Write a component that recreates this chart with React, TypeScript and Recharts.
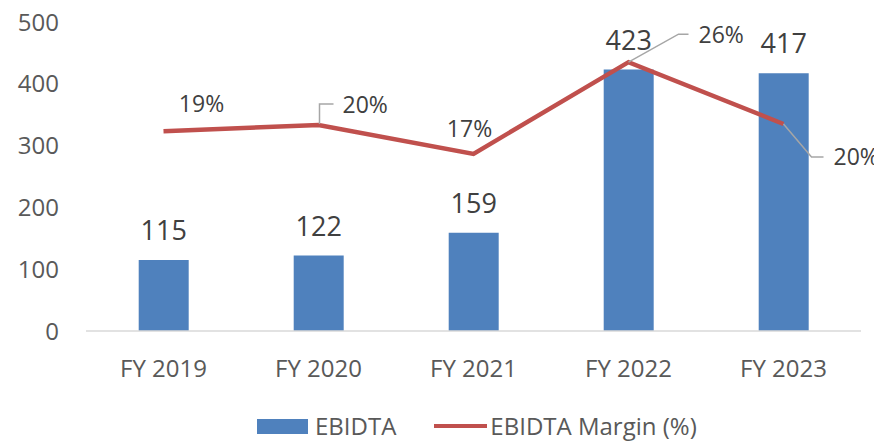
import React from 'react';
import { ComposedChart, Bar, Line, XAxis, YAxis, Legend, LabelList } from 'recharts';

const years = ['FY 2019', 'FY 2020', 'FY 2021', 'FY 2022', 'FY 2023'];
const ebidta = [115, 122, 159, 423, 417];
const margin = [19.4, 20.0, 17.2, 26.1, 20.1];
const yTicks = [0, 100, 200, 300, 400, 500];

const data = years.map((y, i) => ({ year: y, ebidta: ebidta[i], margin: margin[i] }));

const BLUE = '#4F81BD';
const RED = '#C0504D';
const TXT = '#595959';
const LEADER = '#A6A6A6';

// label placement around each line point: dx/dy of text, anchor, optional leader polyline
const marginLabelPos = [
  { dx: 38, dy: -27, anchor: 'middle', leader: null },
  { dx: 24, dy: -20, anchor: 'start', leader: [[1, -1], [1, -21], [15, -21]] },
  { dx: -4, dy: -25, anchor: 'middle', leader: null },
  { dx: 70, dy: -27, anchor: 'start', leader: [[0, 0], [50, -28], [60, -28]] },
  { dx: 50, dy: 33, anchor: 'start', leader: [[0, 0], [28, 33], [40, 33]] },
];

const MarginLabel = (props: any) => {
  const { x, y, index, value } = props;
  const p = marginLabelPos[index];
  if (!p) return null;
  return (
    <g>
      {p.leader && (
        <polyline
          points={p.leader.map(([a, b]) => `${x + a},${y + b}`).join(' ')}
          fill="none"
          stroke={LEADER}
          strokeWidth={1.5}
        />
      )}
      <text x={x + p.dx} y={y + p.dy} dy="0.355em" textAnchor={p.anchor} fill="#404040" fontSize={23}>
        {Math.round(value)}%
      </text>
    </g>
  );
};

const LegendContent = () => (
  <div style={{ height: 28, lineHeight: '28px', display: 'flex', alignItems: 'center', paddingLeft: 257, fontSize: 24, color: TXT }}>
    <span style={{ display: 'inline-block', width: 51, height: 15, background: BLUE, marginRight: 7 }} />
    <span style={{ marginRight: 38 }}>EBIDTA</span>
    <span style={{ display: 'inline-block', width: 53, height: 4, background: RED, marginRight: 3 }} />
    <span>EBIDTA Margin (%)</span>
  </div>
);

export default function App() {
  return (
    <div style={{ position: 'absolute', left: 0, top: 0, width: 874, height: 441, background: '#fff', fontFamily: '"Open Sans", sans-serif' }}>
      <ComposedChart width={874} height={441} data={data} margin={{ top: 22, right: 13, left: 16, bottom: 0 }} barCategoryGap="34%">
        <XAxis
          dataKey="year"
          axisLine={{ stroke: '#D9D9D9', strokeWidth: 1.5 }}
          tickLine={false}
          tickSize={0}
          tickMargin={29}
          height={82}
          tick={{ fill: TXT, fontSize: 24 }}
          interval={0}
        />
        <YAxis
          yAxisId="left"
          domain={[0, 500]}
          ticks={yTicks}
          width={70}
          axisLine={false}
          tickLine={false}
          tickSize={0}
          tickMargin={27}
          tick={{ fill: TXT, fontSize: 24 }}
        />
        <YAxis yAxisId="right" orientation="right" domain={[0, 30]} hide />
        <Legend
          verticalAlign="bottom"
          height={28}
          wrapperStyle={{ left: 0, width: 874, bottom: 1 }}
          content={<LegendContent />}
        />
        <Bar yAxisId="left" dataKey="ebidta" fill={BLUE} isAnimationActive={false}>
          <LabelList dataKey="ebidta" position="top" offset={20} fill="#404040" fontSize={27} />
        </Bar>
        <Line
          yAxisId="right"
          dataKey="margin"
          stroke={RED}
          strokeWidth={4.5}
          dot={false}
          type="linear"
          isAnimationActive={false}
        >
          <LabelList dataKey="margin" content={<MarginLabel />} />
        </Line>
      </ComposedChart>
    </div>
  );
}
